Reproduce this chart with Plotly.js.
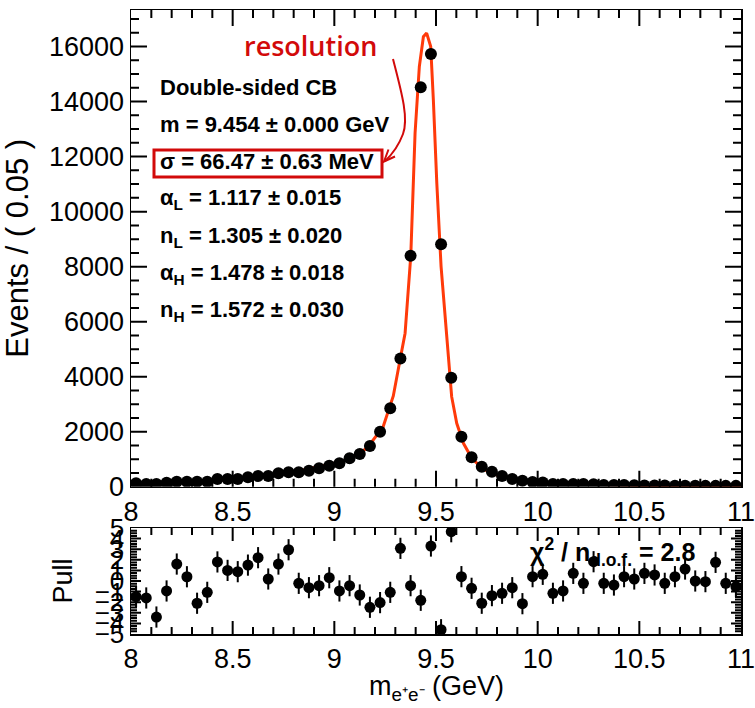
<!DOCTYPE html>
<html>
<head>
<meta charset="utf-8">
<script src="https://cdn.plot.ly/plotly-3.0.1.min.js"></script>
<style>
html,body{margin:0;padding:0;background:#fff;}
#chart{width:755px;height:708px;}
.js-plotly-plot .plotly path.ticks{shape-rendering:auto !important;stroke:#000 !important;stroke-opacity:1 !important;}
</style>
</head>
<body>
<div id="chart"></div>
<script>
// ---- data ----
const binCenters = [8.025,8.075,8.125,8.175,8.225,8.275,8.325,8.375,8.425,8.475,
  8.525,8.575,8.625,8.675,8.725,8.775,8.825,8.875,8.925,8.975,
  9.025,9.075,9.125,9.175,9.225,9.275,9.325,9.375,9.425,9.475,
  9.525,9.575,9.625,9.675,9.725,9.775,9.825,9.875,9.925,9.975,
  10.025,10.075,10.125,10.175,10.225,10.275,10.325,10.375,10.425,10.475,
  10.525,10.575,10.625,10.675,10.725,10.775,10.825,10.875,10.925,10.975];
const counts = [124,98,98,145,182,182,182,182,280,280,
  280,340,389,389,487,523,523,582,669,764,
  850,1032,1189,1480,2000,2850,4660,8400,14520,15730,
  8814,3964,1818,1069,727,545,389,280,218,171,
  152,98,98,98,98,90,62,62,62,55,
  40,40,40,35,35,35,30,30,30,30];
const pulls = [-1.48,-1.6,-3.4,-0.94,1.6,0.4,-2.1,-1.07,1.8,1.0,
  0.88,1.5,2.2,0.19,1.6,2.95,-0.22,-0.63,-0.44,0.31,
  -0.94,-0.44,-1.32,-2.48,-2.04,-1.07,3.08,-0.44,-1.82,3.3,
  -4.6,4.65,0.41,-0.69,-2.1,-1.38,-1.16,-0.63,-2.14,0.41,
  0.63,-1.16,-0.94,0.72,-0.22,1.82,-0.22,-0.38,0.41,0.19,
  0.72,0.57,-0.22,0.41,1.13,0.0,-0.06,1.76,-0.22,-0.53];
const fitX = [8.0,8.2,8.34,8.5,8.667,8.83,9.0,9.08,9.16,9.24,9.29,9.323,9.348,9.376,9.397,9.418,9.438,9.454,
  9.474,9.487,9.504,9.525,9.545,9.561,9.577,9.602,9.635,9.676,9.733,9.8,9.88,9.98,10.08,10.21,10.37,10.54,10.75,11.0];
const fitY = [145,165,182,270,400,582,850,1032,1396,2182,3300,4607,5580,8400,12850,15270,16360,16490,
  16000,14060,11030,8000,6180,4485,3273,2305,1578,1033,633,425,280,182,124,98,62,40,32,30];
const fitLines = [
  "<b>Double-sided CB</b>",
  "<b>m = 9.454 ± 0.000 GeV</b>",
  "<b>σ = 66.47 ± 0.63 MeV</b>",
  "<b>α<sub>L</sub> = 1.117 ± 0.015</b>",
  "<b>n<sub>L</sub> = 1.305 ± 0.020</b>",
  "<b>α<sub>H</sub> = 1.478 ± 0.018</b>",
  "<b>n<sub>H</sub> = 1.572 ± 0.030</b>"
];
const xTitle = "m<sub>e⁺e⁻</sub> (GeV)";
const yTitle = "Events / ( 0.05 )";
const pullTitle = "Pull";
const chiText = "<b>χ<sup>2</sup> / n<sub>d.o.f.</sub> = 2.8</b>";

// ---- geometry helpers (pixel -> paper) ----
const L = 131, R = 741, T = 10, B = 634;
const PX = p => (p - L) / (R - L);
const PY = p => (B - p) / (B - T);
const FONT = "Liberation Sans, Arial, Helvetica, sans-serif";
const RED = "#d20a0a";

const traces = [
  {x: fitX, y: fitY, type: "scatter", mode: "lines", xaxis: "x", yaxis: "y",
   line: {color: "#ff3a0a", width: 3}, hoverinfo: "skip"},
  {x: binCenters, y: counts, type: "scatter", mode: "markers", xaxis: "x", yaxis: "y",
   marker: {color: "#000", size: 12}},
  {x: binCenters, y: pulls, type: "scatter", mode: "markers", xaxis: "x2", yaxis: "y2",
   marker: {color: "#000", size: 11},
   error_y: {type: "constant", value: 1, color: "#000", thickness: 2, width: 0}}
];

const axisCommon = {
  showline: true, linecolor: "#000", linewidth: 1.5, mirror: "allticks",
  ticks: "inside", tickcolor: "#000", tickwidth: 2, showgrid: false, zeroline: false,
  tickfont: {family: FONT, size: 27, color: "#000"}, ticklabeloverflow: "allow"
};
const minor = (d, len) => ({dtick: d, ticklen: len, ticks: "inside", tickcolor: "#000", tickwidth: 2, showgrid: false});

const annotations = fitLines.map((t, i) => ({
  xref: "paper", yref: "paper", x: PX(158), y: PY(87 + i * 37.4),
  xanchor: "left", yanchor: "middle", showarrow: false, text: t,
  font: {family: FONT, size: 22, color: "#000"}
}));
annotations.push({
  xref: "paper", yref: "paper", x: PX(242), y: PY(45), xanchor: "left", yanchor: "middle",
  showarrow: false, text: "resolution",
  font: {family: "Open Sans, sans-serif", size: 27, color: RED, weight: 600}
});
annotations.push({
  xref: "paper", yref: "paper", x: PX(528), y: PY(552), xanchor: "left", yanchor: "middle",
  showarrow: false, text: chiText,
  font: {family: FONT, size: 25, color: "#000"}
});
annotations.push({
  xref: "paper", yref: "paper", x: PX(436), y: PY(688), xanchor: "center", yanchor: "middle",
  showarrow: false, text: xTitle,
  font: {family: FONT, size: 27, color: "#000"}
});

const shapes = [
  {type: "rect", xref: "paper", yref: "paper", x0: PX(154), x1: PX(382), y0: PY(177), y1: PY(150),
   line: {color: RED, width: 3}},
  {type: "path", xref: "paper", yref: "paper",
   path: `M ${PX(393)},${PY(59)} C ${PX(401)},${PY(90)} ${PX(409)},${PY(118)} ${PX(403)},${PY(134)} Q ${PX(397)},${PY(150)} ${PX(385)},${PY(161)}`,
   line: {color: RED, width: 2}},
  {type: "path", xref: "paper", yref: "paper",
   path: `M ${PX(388.5)},${PY(149.5)} L ${PX(384)},${PY(161.5)} L ${PX(395)},${PY(156.5)}`,
   line: {color: RED, width: 2}}
];

const layout = {
  width: 755, height: 708,
  margin: {l: L, r: 755 - R, t: T, b: 708 - B},
  showlegend: false,
  xaxis: Object.assign({}, axisCommon, {
    anchor: "y", range: [8, 11],
    tickmode: "linear", tick0: 8, dtick: 0.5,
    ticklen: 16, minor: minor(0.1, 8)
  }),
  yaxis: Object.assign({}, axisCommon, {
    anchor: "x", domain: [PY(486.7), 1], range: [0, 17330],
    tickmode: "linear", tick0: 0, dtick: 2000, tickformat: "d",
    ticklen: 16, minor: minor(500, 8),
    title: {text: yTitle, font: {family: FONT, size: 31, color: "#000"}, standoff: 14}
  }),
  xaxis2: Object.assign({}, axisCommon, {
    anchor: "y2", range: [8, 11],
    tickmode: "linear", tick0: 8, dtick: 0.5,
    ticklen: 13, minor: minor(0.1, 7)
  }),
  yaxis2: Object.assign({}, axisCommon, {
    anchor: "x2", domain: [0, PY(528)], range: [-5.001, 5.001],
    tickmode: "linear", tick0: 0, dtick: 1,
    ticklen: 10, minor: minor(0.25, 6),
    tickfont: {family: FONT, size: 26, color: "#000"},
    title: {text: pullTitle, font: {family: FONT, size: 27, color: "#000"}, standoff: 14}
  }),
  annotations: annotations,
  shapes: shapes
};

Plotly.newPlot("chart", traces, layout, {displayModeBar: false, staticPlot: true}).then(gd => {
  // make sure the axis tick layers sit on top of everything and are not clipped
  const svgs = gd.querySelectorAll("svg.main-svg");
  const top = svgs[svgs.length - 1];
  gd.querySelectorAll("g.xaxislayer-above, g.yaxislayer-above, g.x2axislayer-above, g.y2axislayer-above").forEach(g => {
    g.removeAttribute("clip-path");
    top.appendChild(g);
  });
  gd.querySelectorAll("path.ticks").forEach(p => {
    p.style.strokeWidth = "2px";
    p.style.stroke = "#000";
  });
});
</script>
</body>
</html>
